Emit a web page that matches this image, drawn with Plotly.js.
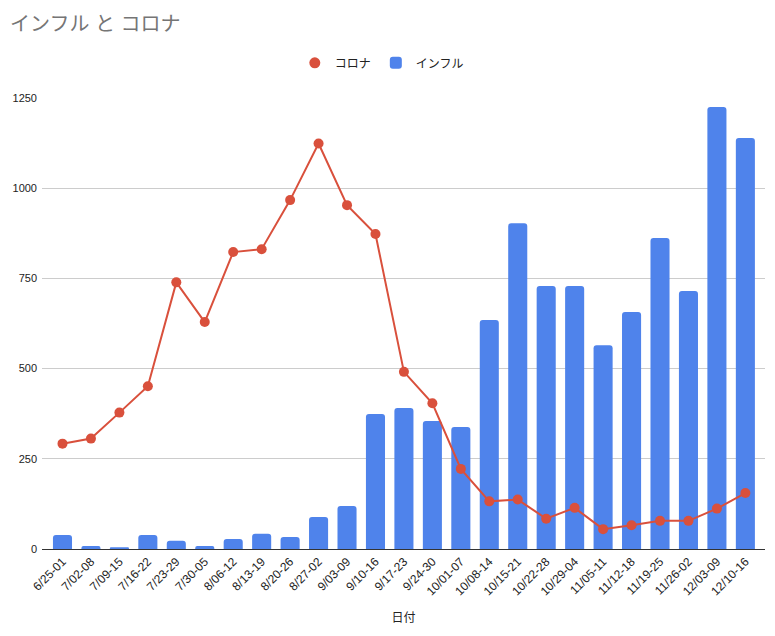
<!DOCTYPE html>
<html>
<head>
<meta charset="utf-8">
<script src="https://cdn.plot.ly/plotly-3.0.1.min.js"></script>
<style>body{margin:0;background:#fff;}#chart{width:775px;height:636px;}</style>
</head>
<body>
<div id="chart"></div>
<script>
const categories = ["6/25-01","7/02-08","7/09-15","7/16-22","7/23-29","7/30-05","8/06-12","8/13-19","8/20-26","8/27-02","9/03-09","9/10-16","9/17-23","9/24-30","10/01-07","10/08-14","10/15-21","10/22-28","10/29-04","11/05-11","11/12-18","11/19-25","11/26-02","12/03-09","12/10-16"];
const corona = [292,306,378,451,739,629,823,831,967,1124,953,873,491,404,222,132,137,84,114,55,66,78,78,112,155];
const influ = [39,8,5,39,23,8,28,42,33,89,119,374,391,355,338,635,903,729,729,565,657,862,715,1225,1139];
const yTicks = [0,250,500,750,1000,1250];

const font = "Arial, 'Liberation Sans', 'Noto Sans CJK JP', sans-serif";
const red = "#D9503C", blue = "#4F83EB";

const traces = [
  {x: categories, y: corona, type: 'scatter', mode: 'lines+markers', name: 'コロナ',
   line: {color: red, width: 2}, marker: {color: red, size: 10}, showlegend: false, legendgroup: 'c'},
  {x: [null], y: [null], type: 'scatter', mode: 'markers', name: 'コロナ',
   marker: {color: red, size: 11}, legendgroup: 'c'},
  {x: categories, y: influ, type: 'bar', name: 'インフル',
   marker: {color: blue, cornerradius: 3}, width: 0.67}
];

const layout = {
  width: 775, height: 636,
  margin: {l: 42, r: 10, t: 98, b: 87},
  paper_bgcolor: '#fff', plot_bgcolor: '#fff',
  font: {family: font, size: 12, color: '#222'},
  title: {text: 'インフル と コロナ', x: 0.013, xref: 'container', xanchor: 'left',
          y: 0.962, yref: 'container', yanchor: 'middle',
          font: {family: font, size: 20, color: '#757575'}},
  showlegend: true,
  legend: {orientation: 'h', x: 0.47, xanchor: 'center', y: 1.078, yanchor: 'middle',
           font: {family: font, size: 12, color: '#222'}, traceorder: 'normal', itemwidth: 30},
  xaxis: {type: 'category', range: [-0.72, 24.69], tickangle: -45,
          tickfont: {family: font, size: 12, color: '#222'},
          showline: true, linecolor: '#333', linewidth: 1, showgrid: false, ticks: '',
          title: {text: '日付', font: {family: font, size: 12, color: '#222'}, standoff: 16}},
  yaxis: {range: [0, 1250], tickvals: yTicks, ticktext: yTicks.map(String),
          showgrid: true, gridcolor: '#cccccc', gridwidth: 1, zeroline: false,
          tickfont: {family: font, size: 11, color: '#222'}, ticks: '', ticklabelstandoff: 4},
  bargap: 0.33
};

Plotly.newPlot('chart', traces, layout, {displayModeBar: false, staticPlot: true});
</script>
</body>
</html>
